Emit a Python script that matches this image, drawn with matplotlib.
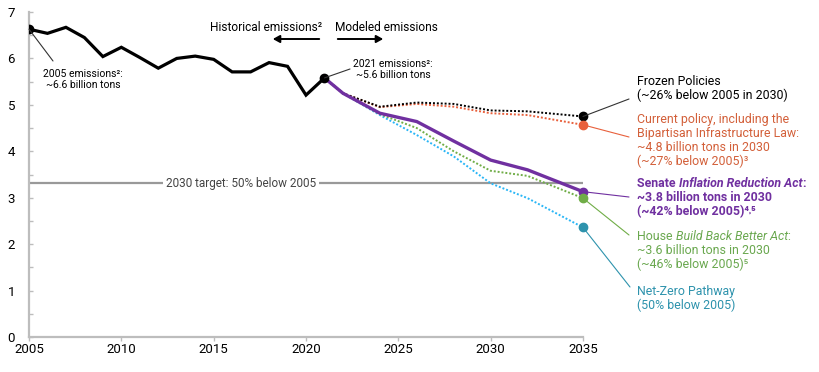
import matplotlib
matplotlib.use("Agg")
import matplotlib.pyplot as plt
from matplotlib.patches import ConnectionPatch, FancyArrowPatch

plt.rcParams['font.family'] = ['Roboto', 'DejaVu Sans']

# ---------------- data ----------------
hist_years = list(range(2005, 2022))
hist_values = [6.63, 6.54, 6.67, 6.45, 6.04, 6.24, 6.02, 5.79, 6.00, 6.05,
               5.98, 5.71, 5.71, 5.91, 5.83, 5.21, 5.58]

proj_years = [2021, 2022, 2024, 2026, 2028, 2030, 2032, 2035]
frozen = [5.58, 5.25, 4.96, 5.05, 5.02, 4.88, 4.86, 4.75]
current = [5.58, 5.25, 4.95, 5.02, 4.96, 4.82, 4.78, 4.57]
senate = [5.58, 5.25, 4.82, 4.64, 4.22, 3.81, 3.60, 3.13]
house = [5.58, 5.25, 4.80, 4.50, 4.00, 3.58, 3.47, 2.99]
netzero = [5.58, 5.25, 4.78, 4.35, 3.89, 3.31, 2.99, 2.36]

target_value = 3.31
x_ticks = [2005, 2010, 2015, 2020, 2025, 2030, 2035]
y_ticks = [0, 1, 2, 3, 4, 5, 6, 7]

# ---------------- figure ----------------
W, H = 819, 372
fig = plt.figure(figsize=(W / 100, H / 100), dpi=100)
ax = fig.add_axes([29 / W, 1 - 337 / H, 554 / W, 325 / H])


def P(x, y):
    return (x / W, 1 - y / H)


BLACK = '#000000'
ORANGE_L = '#e8603c'
ORANGE_T = '#d3603a'
PURPLE = '#7030a0'
GREEN_L = '#70ad47'
GREEN_T = '#6aa84f'
BLUE_L = '#29b6f6'
BLUE_T = '#2e93ad'
GRID = '#bdbdbd'

ax.set_xlim(2005, 2035)
ax.set_ylim(0, 7)
for s in ['top', 'right']:
    ax.spines[s].set_visible(False)
for s in ['left', 'bottom']:
    ax.spines[s].set_color(GRID)
    ax.spines[s].set_linewidth(1.6)

ax.set_xticks(x_ticks)
ax.set_yticks(y_ticks)
ax.set_yticks([v + 0.5 for v in y_ticks[:-1]], minor=True)
ax.tick_params(axis='x', direction='out', length=3, width=1, color=GRID,
               labelsize=9.5, pad=1.5)
ax.tick_params(axis='y', which='both', direction='in', length=3, width=1,
               color=GRID, labelsize=9.5, pad=10)

# target line
ax.axhline(target_value, color='#999999', lw=1.6, zorder=1)
ax.text(2016.5, target_value, '2030 target: 50% below 2005', ha='center',
        va='center', fontsize=8.5, color='#444444', zorder=2,
        bbox=dict(boxstyle='square,pad=0.25', fc='white', ec='none'))

dot = (0, (1, 1))
ax.plot(proj_years, netzero, color=BLUE_L, lw=1.4, ls=dot, zorder=3)
ax.plot(proj_years, house, color=GREEN_L, lw=1.4, ls=dot, zorder=3)
ax.plot(proj_years, current, color=ORANGE_L, lw=1.4, ls=dot, zorder=3)
ax.plot(proj_years, frozen, color=BLACK, lw=1.4, ls=dot, zorder=3)
ax.plot(proj_years, senate, color=PURPLE, lw=2.4, zorder=4)

ax.plot(hist_years, hist_values, color=BLACK, lw=2.3, zorder=5,
        solid_joinstyle='miter')
ax.plot([hist_years[0], hist_years[-1]], [hist_values[0], hist_values[-1]],
        'o', color=BLACK, ms=6, zorder=6)

end_cols = [(frozen, BLACK), (current, ORANGE_L), (senate, PURPLE),
            (house, GREEN_L), (netzero, BLUE_T)]
for series, c in end_cols:
    ax.plot([proj_years[-1]], [series[-1]], 'o', color=c, ms=6, zorder=6,
            clip_on=False)


def leader(xd, yd, pxy, color):
    cp = ConnectionPatch(xyA=(xd, yd), coordsA=ax.transData,
                         xyB=P(*pxy), coordsB=fig.transFigure,
                         color=color, lw=0.8, zorder=2)
    fig.add_artist(cp)


leader(proj_years[-1], frozen[-1], (629, 99), '#333333')
leader(proj_years[-1], current[-1], (629, 137), ORANGE_L)
leader(proj_years[-1], senate[-1], (629, 197), PURPLE)
leader(proj_years[-1], house[-1], (629, 235), GREEN_L)
leader(proj_years[-1], netzero[-1], (630, 287), BLUE_T)
leader(hist_years[0], hist_values[0], (53, 61), '#333333')
leader(hist_years[-1], hist_values[-1], (350, 69), '#333333')

# small annotations
fig.text(*P(83, 77), '2005 emissions\u00b2:', ha='center', va='baseline',
         fontsize=7.5)
fig.text(*P(83, 88), '~6.6 billion tons', ha='center', va='baseline',
         fontsize=7.5)
fig.text(*P(393, 67), '2021 emissions\u00b2:', ha='center', va='baseline',
         fontsize=7.5)
fig.text(*P(393, 78), '~5.6 billion tons', ha='center', va='baseline',
         fontsize=7.5)

# header
fig.text(*P(322, 31), 'Historical emissions\u00b2', ha='right',
         va='baseline', fontsize=8.6)
fig.text(*P(335, 31), 'Modeled emissions', ha='left', va='baseline',
         fontsize=8.6)
fig.add_artist(FancyArrowPatch(
    P(322, 39), P(270, 39), transform=fig.transFigure,
    arrowstyle='-|>,head_length=4,head_width=2.2', color=BLACK, lw=1.4,
    mutation_scale=1))
fig.add_artist(FancyArrowPatch(
    P(335, 39), P(386, 39), transform=fig.transFigure,
    arrowstyle='-|>,head_length=4,head_width=2.2', color=BLACK, lw=1.4,
    mutation_scale=1))

SIZE = 8.9


def draw_line(segments, x, yb, color, size=SIZE):
    last = None
    for txt, style, weight in segments:
        if last is None:
            last = fig.text(*P(x, yb), txt, ha='left', va='baseline',
                            fontsize=size, color=color, style=style,
                            fontweight=weight)
        else:
            last = ax.annotate(
                txt, xy=(1, 0), xycoords=last, ha='left', va='bottom',
                fontsize=size, color=color, style=style, fontweight=weight,
                annotation_clip=False)


N, I, B = 'normal', 'italic', 'bold'
LX = 637
draw_line([('Frozen Policies', N, N)], LX, 85, BLACK)
draw_line([('(~26% below 2005 in 2030)', N, N)], LX, 99, BLACK)

draw_line([('Current policy, including the', N, N)], LX, 123, ORANGE_T)
draw_line([('Bipartisan Infrastructure Law:', N, N)], LX, 137, ORANGE_T)
draw_line([('~4.8 billion tons in 2030', N, N)], LX, 151, ORANGE_T)
draw_line([('(~27% below 2005)\u00b3', N, N)], LX, 165, ORANGE_T)

draw_line([('Senate ', N, B), ('Inflation Reduction Act', I, B), (':', N, B)],
          LX, 187, PURPLE)
draw_line([('~3.8 billion tons in 2030', N, B)], LX, 201, PURPLE)
draw_line([('(~42% below 2005)\u2074\u02d2\u2075', N, B)], LX, 215, PURPLE)

draw_line([('House ', N, N), ('Build Back Better Act', I, N), (':', N, N)],
          LX, 240, GREEN_T)
draw_line([('~3.6 billion tons in 2030', N, N)], LX, 254, GREEN_T)
draw_line([('(~46% below 2005)\u2075', N, N)], LX, 268, GREEN_T)

draw_line([('Net-Zero Pathway', N, N)], LX, 295, BLUE_T)
draw_line([('(50% below 2005)', N, N)], LX, 309, BLUE_T)

fig.savefig('out.png', dpi=100)
